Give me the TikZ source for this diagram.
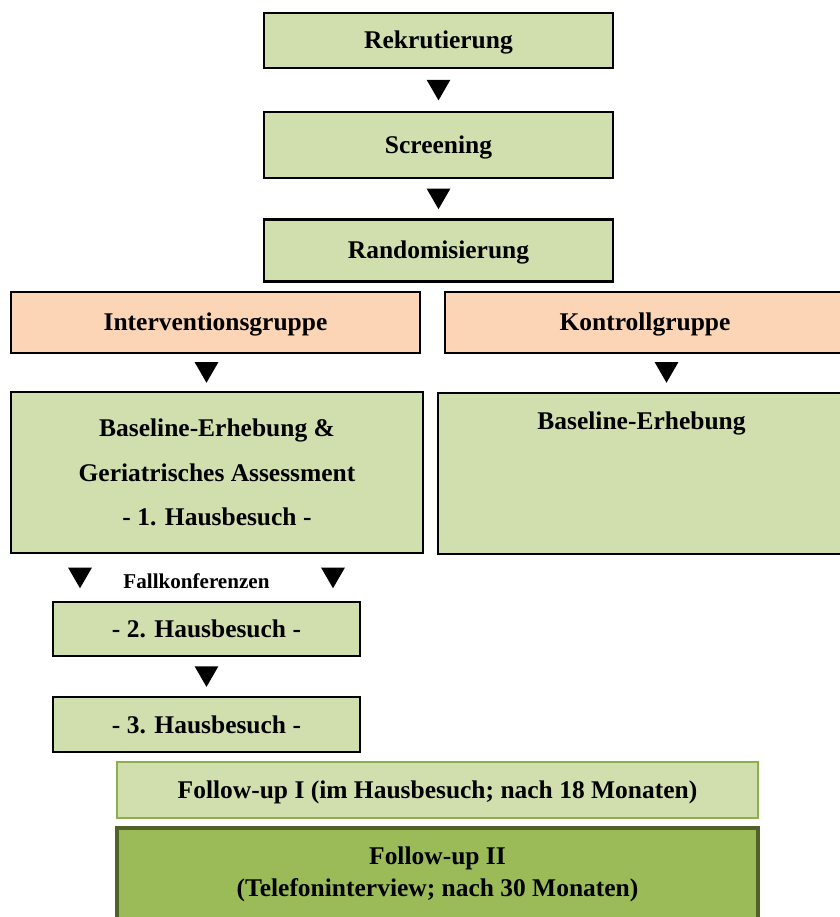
\documentclass[tikz,border=0pt]{standalone}
\usepackage{fontspec}
\setmainfont{Liberation Serif}
\usetikzlibrary{positioning,shapes.geometric,calc}
\definecolor{BoxGreen}   {HTML}{D1DFAE}
\definecolor{GroupPeach} {HTML}{FBD5B5}
\definecolor{FollowGreen}{HTML}{9BBB59}
\definecolor{FollowLine} {HTML}{8DB04F}
\definecolor{DarkGreen}  {HTML}{4F6228}

\begin{document}
\begin{tikzpicture}[node distance=0.8cm,
    box/.style={fill=BoxGreen,draw=black,line width=1.3pt,inner sep=2pt,align=center,
                font=\fontsize{14.5}{25.5}\selectfont\bfseries,minimum height=1.1cm},
    single/.style={box,text height=13pt,text depth=3.5pt},
    grp/.style={single,fill=GroupPeach},
    tri/.style={fill=black,regular polygon,regular polygon sides=3,shape border rotate=180,
                minimum size=0.55cm,inner sep=0pt,yshift=0.07cm}]
    \useasboundingbox (0,0) rectangle (16.78,-18.34);
    \node[single,minimum width=6.98cm] (rek) at (8.77,-0.81) {Rekrutierung};
    \node[single,minimum width=6.98cm,minimum height=1.32cm,below=0.84cm of rek] (scr) {Screening};
    \node[single,minimum width=6.98cm,minimum height=1.24cm,below=0.78cm of scr] (rand) {Randomisierung};
    \node[grp,minimum width=8.18cm,minimum height=1.22cm] (ig) at (4.31,-6.45) {Interventionsgruppe};
    \node[grp,minimum width=8.0cm,minimum height=1.22cm] (kg) at (12.90,-6.45) {Kontrollgruppe};
    \node[box,minimum width=8.24cm,minimum height=3.22cm] (bl) at (4.34,-9.45)
      {Baseline-Erhebung \&\\Geriatrisches Assessment\\- 1. Hausbesuch -};
    \node[box,minimum width=8.14cm,anchor=north,inner ysep=0pt,text height=0.72cm,text depth=2.5cm]
      (br) at (12.83,-7.84) {Baseline-Erhebung};
    \node[font=\fontsize{12}{14}\selectfont\bfseries] (fk) at (3.93,-11.62) {Fallkonferenzen};
    \node[single,minimum width=6.14cm,minimum height=1.08cm] (h2) at (4.13,-12.58) {- 2. Hausbesuch -};
    \node[single,minimum width=6.14cm,below=0.78cm of h2] (h3) {- 3. Hausbesuch -};
    \node[single,draw=FollowLine,line width=1.6pt,minimum width=12.82cm,minimum height=1.12cm]
      (fu1) at (8.75,-15.80) {Follow-up I (im Hausbesuch; nach 18 Monaten)};
    \node[box,fill=FollowGreen,draw=DarkGreen,line width=2.2pt,minimum width=12.82cm,minimum height=1.84cm,
      font=\fontsize{14.5}{18.5}\selectfont\bfseries,below=0.14cm of fu1] (fu2)
      {Follow-up II\\(Telefoninterview; nach 30 Monaten)};
    \node[tri] (t1) at ($(rek.south)!.5!(scr.north)$) {};
    \node[tri] (t2) at ($(scr.south)!.5!(rand.north)$) {};
    \node[tri] (t3) at (4.13,-7.45) {};
    \node[tri] (t4) at (13.33,-7.45) {};
    \node[tri] (t5) at (1.60,-11.56) {};
    \node[tri] (t6) at (6.66,-11.56) {};
    \node[tri] (t7) at ($(h2.south)!.5!(h3.north)$) {};
  \end{tikzpicture}
\end{document}
